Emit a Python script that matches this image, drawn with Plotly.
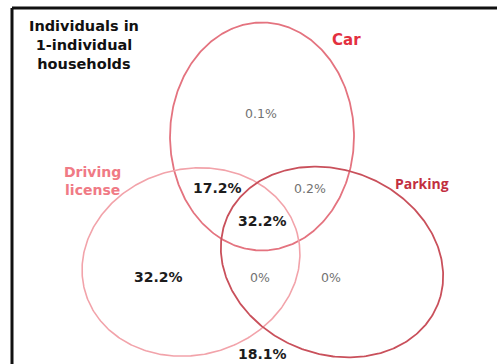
import numpy as np
import plotly.graph_objects as go

# ---- data ----
set_names = ["Car", "Driving<br>license", "Parking"]
region_keys = ["car_only", "car_lic", "car_park", "all_three", "lic_only", "lic_park", "park_only", "none"]
region_values = [0.1, 17.2, 0.2, 32.2, 32.2, 0.0, 0.0, 18.1]
title_lines = ["Individuals in", "1-individual", "households"]

# ---- layout geometry (pixel space) ----
W, H = 497, 364
ellipses = {  # cx, cy, a, b, angle(deg), color, width
    "Car": (262, 136.5, 92, 114, 0, "#e4737f", 1.8),
    "Driving<br>license": (191, 262, 110, 93, -15, "#f2a3aa", 1.6),
    "Parking": (332, 262, 114, 92, 22, "#c9505b", 1.8),
}
set_label_pos = {"Car": (346, 40), "Driving<br>license": (92, 181), "Parking": (422, 183)}
set_label_col = {"Car": "#e3303f", "Driving<br>license": "#f07a85", "Parking": "#c22f40"}
set_label_font = {"Car": ("DejaVu Sans", 15), "Driving<br>license": ("DejaVu Sans", 14),
                  "Parking": ("Open Sans", 14)}
region_pos = {
    "car_only": (261, 113), "car_lic": (217, 188), "car_park": (310, 188),
    "all_three": (262, 221), "lic_only": (158, 277), "lic_park": (260, 277),
    "park_only": (331, 277), "none": (262, 354),
}
bold_regions = {"car_lic", "all_three", "lic_only", "none"}

fig = go.Figure()
t = np.linspace(0, 2 * np.pi, 400)
for name in set_names:
    cx, cy, a, b, ang, col, lw = ellipses[name]
    th = np.deg2rad(ang)
    xs = cx + a * np.cos(th) * np.cos(t) - b * np.sin(th) * np.sin(t)
    ys = cy + a * np.sin(th) * np.cos(t) + b * np.cos(th) * np.sin(t)
    fig.add_trace(go.Scatter(x=xs, y=ys, mode="lines", line=dict(color=col, width=lw),
                             hoverinfo="skip", showlegend=False))

for key, val in zip(region_keys, region_values):
    x, y = region_pos[key]
    txt = f"{val:g}%"
    if key in bold_regions:
        font = dict(family="DejaVu Sans", size=14, color="#1c1c1c")
        txt = f"<b>{txt}</b>"
    else:
        font = dict(family="DejaVu Sans", size=12.5, color="#727272")
    fig.add_annotation(x=x, y=y, text=txt, showarrow=False, font=font, xanchor="center", yanchor="middle")

for name in set_names:
    x, y = set_label_pos[name]
    fam, sz = set_label_font[name]
    fig.add_annotation(x=x, y=y, text=f"<b>{name}</b>", showarrow=False,
                       font=dict(family=fam, size=sz, color=set_label_col[name]),
                       xanchor="center", yanchor="middle", align="center")

fig.add_annotation(x=84, y=45, text="<b>" + "<br>".join(title_lines) + "</b>", showarrow=False,
                   font=dict(family="DejaVu Sans", size=14.5, color="#111111"), align="center",
                   xanchor="center", yanchor="middle")

# frame: only top and left edges are visible in the reference
fig.add_shape(type="line", x0=12, y0=8, x1=W + 5, y1=8, line=dict(color="#111111", width=3), layer="below")
fig.add_shape(type="line", x0=12, y0=8, x1=12, y1=H + 5, line=dict(color="#111111", width=3), layer="below")

fig.update_layout(
    width=W, height=H, margin=dict(l=0, r=0, t=0, b=0),
    paper_bgcolor="white", plot_bgcolor="white",
    xaxis=dict(range=[0, W], visible=False, fixedrange=True),
    yaxis=dict(range=[H, 0], visible=False, fixedrange=True),
)
fig.write_html("out.html", config={"displayModeBar": False},
               post_script="document.body.style.margin='0';document.body.style.overflow='hidden';")
